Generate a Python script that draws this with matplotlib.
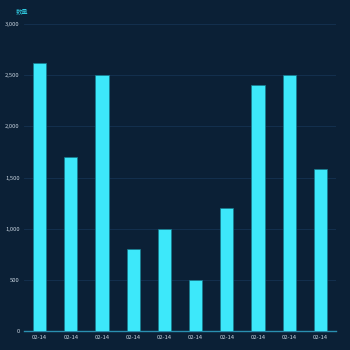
import matplotlib.pyplot as plt
from matplotlib.ticker import FuncFormatter

plt.rcParams['font.family'] = ['Noto Sans CJK SC', 'DejaVu Sans']

# data
categories = ['02-14'] * 10
values = [2620, 1700, 2500, 800, 1000, 500, 1200, 2400, 2500, 1580]
series_name = '数量'

bg = '#0b2036'
bar_color = '#3de8fa'

fig = plt.figure(figsize=(3.5, 3.5), dpi=100)
fig.patch.set_facecolor(bg)
ax = fig.add_axes([0.0686, 0.0543, 0.8914, 0.8771])
ax.set_facecolor(bg)

x = list(range(len(values)))
ax.bar(x, values, width=0.42, color=bar_color, edgecolor='#16798c', linewidth=0.5, zorder=3)

ax.set_xlim(-0.5, len(values) - 0.5)
ax.set_ylim(0, 3000)
ax.set_yticks([0, 500, 1000, 1500, 2000, 2500, 3000])
ax.yaxis.set_major_formatter(FuncFormatter(lambda v, p: f'{int(v):,}'))
ax.set_xticks(x)
ax.set_xticklabels(categories)

ax.grid(axis='y', color='#153352', linewidth=0.6, zorder=0)
for s in ['top', 'right', 'left']:
    ax.spines[s].set_visible(False)
ax.spines['bottom'].set_color('#2a8fb0')
ax.spines['bottom'].set_linewidth(1.0)

ax.tick_params(axis='y', length=0, labelsize=4.2, labelcolor='#c8d4e0', pad=3)
ax.tick_params(axis='x', length=0, labelsize=4.2, labelcolor='#c8d4e0', pad=3)

fig.text(0.046, 0.968, series_name, color='#2fc6dc', fontsize=4.5, ha='left', va='center')

fig.savefig('out.png', dpi=100, facecolor=bg)
